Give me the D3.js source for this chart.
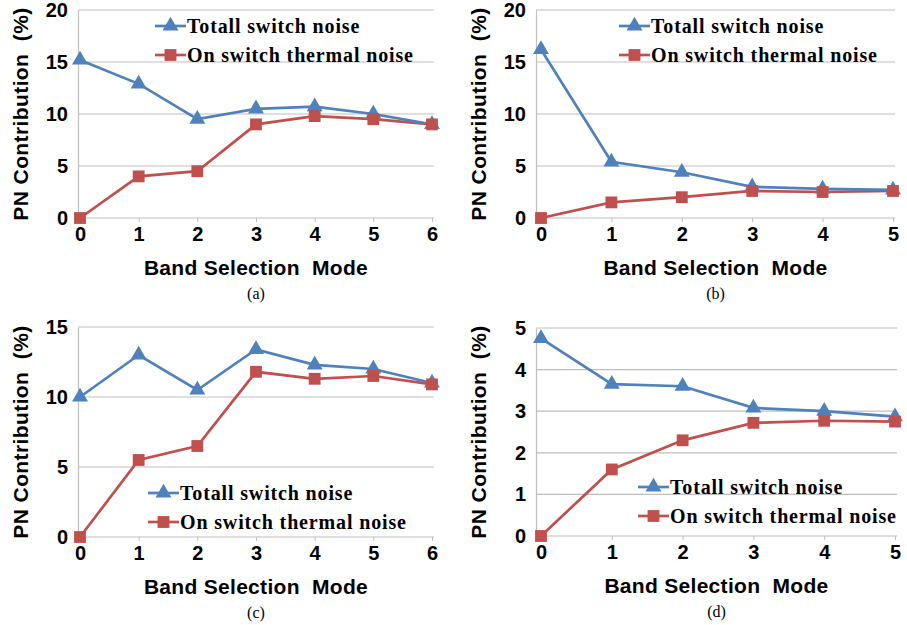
<!DOCTYPE html>
<html><head><meta charset="utf-8">
<script src="https://cdn.jsdelivr.net/npm/d3@7"></script>
<style>body{margin:0;background:#fff}svg{display:block}</style>
</head><body>
<svg id="c" width="907" height="625"></svg>
<script>
const seriesNames = ["Totall switch noise", "On switch thermal noise"];
const modesA = [0,1,2,3,4,5,6];
const totalA = [15.2,12.9,9.5,10.5,10.7,10.0,9.0];
const thermalA = [0,4.0,4.5,9.0,9.8,9.5,9.0];
const modesB = [0,1,2,3,4,5];
const totalB = [16.2,5.4,4.4,3.0,2.8,2.7];
const thermalB = [0,1.5,2.0,2.6,2.5,2.6];
const modesC = [0,1,2,3,4,5,6];
const totalC = [10.0,13.0,10.5,13.4,12.3,12.0,11.0];
const thermalC = [0,5.5,6.5,11.8,11.3,11.5,10.9];
const modesD = [0,1,2,3,4,5];
const totalD = [4.75,3.65,3.6,3.08,3.0,2.87];
const thermalD = [0,1.6,2.3,2.72,2.77,2.75];
const yTicksA = [0,5,10,15,20];
const yTicksB = [0,5,10,15,20];
const yTicksC = [0,5,10,15];
const yTicksD = [0,1,2,3,4,5];
const captions = ["(a)","(b)","(c)","(d)"];

const panels = [
  {modes:modesA,total:totalA,thermal:thermalA,yt:yTicksA,cap:captions[0],
   x0:80,x1:432,y0:218,y1:10,gl:78,leg:{x:155,y:26}},
  {modes:modesB,total:totalB,thermal:thermalB,yt:yTicksB,cap:captions[1],
   x0:541,x1:893,y0:218,y1:10,gl:536,leg:{x:619,y:26}},
  {modes:modesC,total:totalC,thermal:thermalC,yt:yTicksC,cap:captions[2],
   x0:80,x1:432,y0:537,y1:327,gl:78,leg:{x:148,y:493}},
  {modes:modesD,total:totalD,thermal:thermalD,yt:yTicksD,cap:captions[3],
   x0:541,x1:895,y0:536,y1:328,gl:536,leg:{x:638,y:487}}
];
const blue="#4F81BD", red="#C0504D", grid="#BFBFBF";
const svg=d3.select("#c");
const tri=d3.symbol().type(d3.symbolTriangle).size(110);
const sq=d3.symbol().type(d3.symbolSquare).size(140);
const sans="Liberation Sans, Arial, sans-serif", serif="Liberation Serif, Times New Roman, serif";

panels.forEach(p=>{
  const g=svg.append("g");
  const x=d3.scaleLinear().domain([0,p.modes.length-1]).range([p.x0,p.x1]);
  const ymax=p.yt[p.yt.length-1];
  const y=d3.scaleLinear().domain([0,ymax]).range([p.y0,p.y1]);
  const right=p.x1+2;
  g.selectAll(".gr").data(p.yt.filter(v=>v>0)).join("line")
    .attr("x1",p.gl).attr("x2",right).attr("y1",d=>y(d)).attr("y2",d=>y(d))
    .attr("stroke",grid).attr("stroke-width",1.2);
  const ya=d3.axisLeft(y).tickValues(p.yt).tickSize(0).tickPadding(10).tickFormat(d3.format("d"));
  const yg=g.append("g").attr("transform",`translate(${p.gl},0)`).call(ya);
  yg.select(".domain").attr("stroke",grid).attr("stroke-width",1.2);
  yg.selectAll("text").attr("font-family",sans)
    .attr("font-weight","bold").attr("font-size",20).attr("fill","#000");
  const xa=d3.axisBottom(x).tickValues(p.modes).tickSize(4).tickPadding(5).tickFormat(d3.format("d"));
  const xg=g.append("g").attr("transform",`translate(0,${p.y0})`).call(xa);
  xg.select(".domain").attr("d",`M${p.gl},0H${right}`).attr("stroke",grid).attr("stroke-width",1.2);
  xg.selectAll(".tick line").attr("stroke",grid);
  xg.selectAll("text").attr("font-family",sans)
    .attr("font-weight","bold").attr("font-size",20).attr("fill","#000");
  const cx=(p.gl+right)/2;
  g.append("text").attr("x",cx).attr("y",p.y0+57).attr("text-anchor","middle")
    .attr("font-family",sans).attr("font-weight","bold")
    .attr("font-size",21).attr("letter-spacing",0.3).attr("xml:space","preserve").text("Band Selection  Mode");
  g.append("text").attr("x",cx).attr("y",p.y0+81).attr("text-anchor","middle")
    .attr("font-family",serif).attr("font-size",16).text(p.cap);
  g.append("text").attr("transform",`translate(${p.gl-50},${(p.y0+p.y1)/2}) rotate(-90)`)
    .attr("text-anchor","middle").attr("font-family",sans)
    .attr("font-weight","bold").attr("font-size",21).attr("letter-spacing",0.4).attr("xml:space","preserve")
    .text("PN Contribution  (%)");
  const line=d3.line().x((d,i)=>x(p.modes[i])).y(d=>y(d));
  [[p.thermal,red],[p.total,blue]].forEach(([vals,col])=>{
    g.append("path").datum(vals).attr("d",line).attr("fill","none")
      .attr("stroke",col).attr("stroke-width",2.7);
  });
  [[p.total,blue,tri],[p.thermal,red,sq]].forEach(([vals,col,sym])=>{
    g.selectAll(null).data(vals).join("path").attr("d",sym)
      .attr("transform",(d,i)=>`translate(${x(p.modes[i])},${y(d)})`)
      .attr("fill",col);
  });
  const lg=g.append("g").attr("transform",`translate(${p.leg.x},${p.leg.y})`);
  [[blue,tri,0],[red,sq,1]].forEach(([col,sym,i])=>{
    const yy=i*29;
    lg.append("line").attr("x1",0).attr("x2",31).attr("y1",yy).attr("y2",yy)
      .attr("stroke",col).attr("stroke-width",2.7);
    lg.append("path").attr("d",sym).attr("transform",`translate(15.5,${yy})`).attr("fill",col);
    lg.append("text").attr("x",32).attr("y",yy).attr("dy","0.35em")
      .attr("font-family",serif).attr("font-weight","bold")
      .attr("font-size",20).attr("letter-spacing",0.85).text(seriesNames[i]);
  });
});
</script>
</body></html>
